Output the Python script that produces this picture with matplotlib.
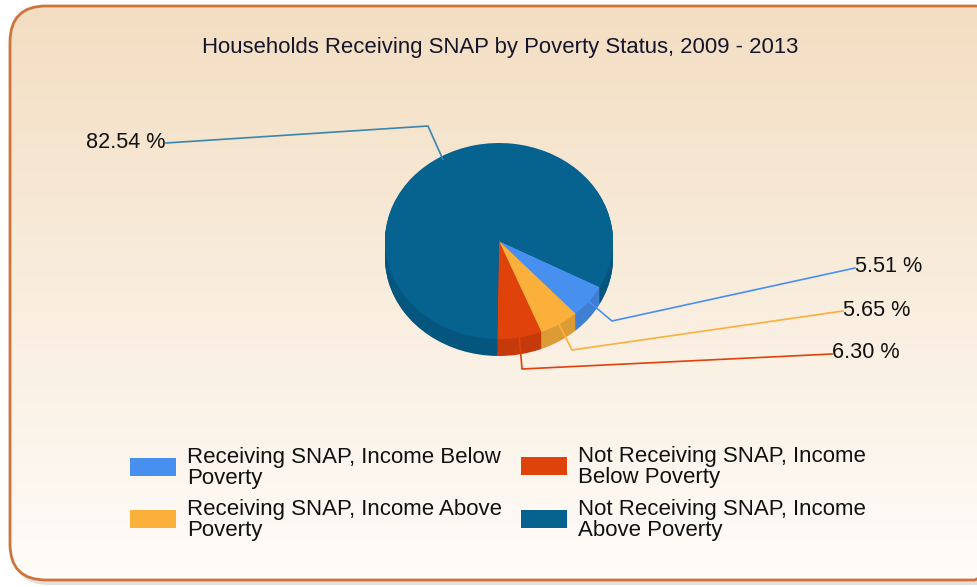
import numpy as np
import matplotlib
matplotlib.use("Agg")
import matplotlib.pyplot as plt
from matplotlib.patches import FancyBboxPatch, Rectangle
from matplotlib.colors import to_rgb

# data
categories = [
    "Receiving SNAP, Income Below\nPoverty",
    "Receiving SNAP, Income Above\nPoverty",
    "Not Receiving SNAP, Income\nBelow Poverty",
    "Not Receiving SNAP, Income\nAbove Poverty",
]
shares = [5.51, 5.65, 6.30, 82.54]
colors = ["#4790F0", "#FBB03C", "#E0420B", "#06628F"]
title = "Households Receiving SNAP by Poverty Status, 2009 - 2013"

plt.rcParams["font.family"] = ["Liberation Sans", "DejaVu Sans"]

W, H = 977, 587
fig = plt.figure(figsize=(W / 100, H / 100), dpi=100)

# background axes in pixel coords
bg = fig.add_axes([0, 0, 1, 1])
bg.set_xlim(0, W)
bg.set_ylim(H, 0)
bg.axis("off")

# shadow + rounded frame with gradient
shadow = FancyBboxPatch((13, 9), 1000, 576, boxstyle="round,pad=0,rounding_size=36",
                        fc="#c8c0b8", ec="none", alpha=0.5)
bg.add_patch(shadow)
frame = FancyBboxPatch((10, 6), 1000, 574, boxstyle="round,pad=0,rounding_size=36",
                       fc="none", ec="#D0733B", lw=2.0, zorder=3)
bg.add_patch(frame)
top = np.array(to_rgb("#F3DEC2"))
bot = np.array(to_rgb("#FFFCF9"))
t = np.linspace(0, 1, 256)[:, None, None]
grad = top * (1 - t) + bot * t
im = bg.imshow(grad, extent=(10, 1010, 580, 6), aspect="auto", zorder=1)
im.set_clip_path(frame)

bg.text(500, 47, title, ha="center", va="center", fontsize=15.9, color="#15152a", zorder=4)

# pie geometry (pixels)
cx, cy, rx, ry, depth = 499, 241, 114, 98, 17
d = depth / ry
pie_ax = fig.add_axes([(cx - rx) / W, (H - (cy + ry + depth)) / H, 2 * rx / W, (2 * ry + depth) / H],
                      zorder=2)


def darker(c, f):
    return tuple(np.array(to_rgb(c)) * f)


# side of the 3d pie: stacked copies shifted down
n_layers = 20
for k in range(n_layers, 0, -1):
    off = d * k / n_layers
    pie_ax.pie(shares, colors=[darker(c, 0.88) for c in colors], startangle=-28,
               counterclock=False, center=(0, -off), radius=1,
               wedgeprops=dict(linewidth=0))
wedges, _ = pie_ax.pie(shares, colors=colors, startangle=-28, counterclock=False,
                       center=(0, 0), radius=1, wedgeprops=dict(linewidth=0))
pie_ax.set_aspect("auto")
pie_ax.set_xlim(-1, 1)
pie_ax.set_ylim(-1 - d, 1)
pie_ax.axis("off")

# leader lines and labels on an overlay
ov = fig.add_axes([0, 0, 1, 1], zorder=3)
ov.set_xlim(0, W)
ov.set_ylim(H, 0)
ov.axis("off")
ov.patch.set_alpha(0)

elbows = [(612, 321), (572, 350), (522, 369), (428, 126)]
label_pos = [(855, 268), (843, 311), (832, 354), (166, 143)]
line_colors = ["#4790F0", "#FBB03C", "#E0420B", "#3A86AE"]

for w, v, el, lp, lc in zip(wedges, shares, elbows, label_pos, line_colors):
    mid = np.deg2rad((w.theta1 + w.theta2) / 2)
    ax_ = cx + rx * 0.97 * np.cos(mid)
    ay_ = cy - ry * 0.97 * np.sin(mid)
    ov.plot([ax_, el[0], lp[0]], [ay_, el[1], lp[1]], color=lc, lw=1.2)
    ha = "right" if lp[0] < cx else "left"
    ov.text(lp[0], lp[1] - 1, f"{v:.2f} %", ha=ha, va="center", fontsize=15.6, color="#111111")

# legend
leg_pos = [(130, 458), (130, 510), (521, 457), (521, 510)]
for (x, y), c, lab in zip(leg_pos, colors, categories):
    bg.add_patch(Rectangle((x, y), 46, 18, fc=c, ec="none", zorder=4))
    bg.text(x + 57, y + 10, lab, ha="left", va="center", fontsize=16, color="#111111",
            linespacing=1.05, zorder=4)

fig.savefig("out.png", dpi=100)
